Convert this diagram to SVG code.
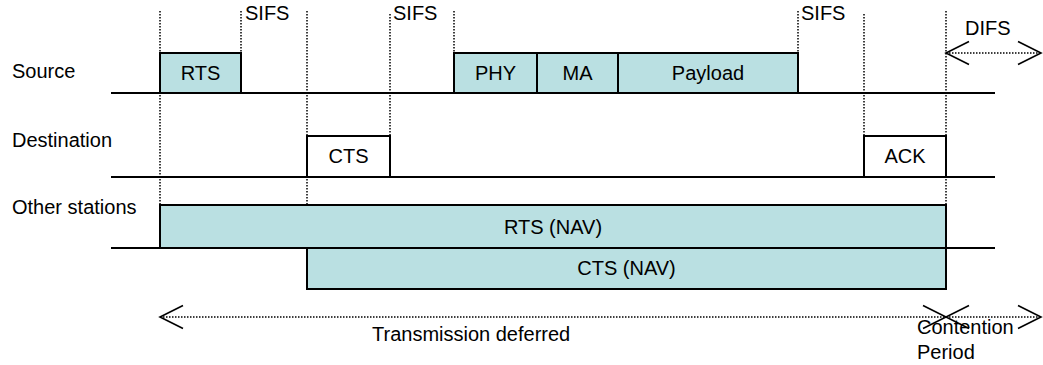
<svg xmlns="http://www.w3.org/2000/svg" width="1043" height="365" viewBox="0 0 1043 365">
  <style>
    text { font-family: "Liberation Sans", Arial, sans-serif; font-size: 20px; fill: #000; }
    .mid { text-anchor: middle; }
    .timeline { stroke: #000; stroke-width: 2; fill: none; }
    .guide { stroke: #000; stroke-width: 1.5; stroke-dasharray: 1.5 1.5; fill: none; }
    .frame { stroke: #000; stroke-width: 2; fill: #bae0e2; }
    .frame-white { stroke: #000; stroke-width: 2; fill: #fff; }
    .span { stroke: #000; stroke-width: 1.5; stroke-dasharray: 1.5 1.5; fill: none;
            marker-start: url(#chevron); marker-end: url(#chevron); }
  </style>
  <defs>
    <marker id="chevron" markerUnits="userSpaceOnUse" viewBox="-25 -13 27 26" markerWidth="27" markerHeight="26"
            refX="0" refY="0" orient="auto-start-reverse" overflow="visible">
      <path d="M-23,-11.5 L0,0 L-23,11.5" fill="none" stroke="#000" stroke-width="1.6"/>
    </marker>
  </defs>

  <!-- station labels -->
  <g id="labels">
    <text x="12" y="78">Source</text>
    <text x="12" y="147">Destination</text>
    <text x="12" y="214">Other stations</text>
  </g>

  <!-- time axes of each station -->
  <g id="timelines">
    <line class="timeline" x1="111" y1="93" x2="995" y2="93"/>
    <line class="timeline" x1="111" y1="177" x2="995" y2="177"/>
    <line class="timeline" x1="111" y1="248" x2="995" y2="248"/>
  </g>

  <!-- dotted timing guides -->
  <g id="guides">
    <line class="guide" x1="160" y1="11" x2="160" y2="205"/>
    <line class="guide" x1="241" y1="11" x2="241" y2="53"/>
    <line class="guide" x1="307" y1="11" x2="307" y2="248"/>
    <line class="guide" x1="390" y1="14" x2="390" y2="136"/>
    <line class="guide" x1="454" y1="11" x2="454" y2="53"/>
    <line class="guide" x1="798" y1="11" x2="798" y2="53"/>
    <line class="guide" x1="864" y1="14" x2="864" y2="136"/>
    <line class="guide" x1="946" y1="11" x2="946" y2="205"/>
  </g>

  <!-- interframe spacing labels -->
  <g id="ifs-labels">
    <text x="245" y="20">SIFS</text>
    <text x="393" y="20">SIFS</text>
    <text x="801" y="20">SIFS</text>
    <text x="965" y="35">DIFS</text>
  </g>

  <!-- source frames -->
  <g id="src-rts">
    <rect class="frame" x="160" y="53" width="81" height="40"/>
    <text class="mid" x="200.5" y="80">RTS</text>
  </g>
  <g id="src-phy">
    <rect class="frame" x="454" y="53" width="83" height="40"/>
    <text class="mid" x="495.5" y="80">PHY</text>
  </g>
  <g id="src-ma">
    <rect class="frame" x="537" y="53" width="81" height="40"/>
    <text class="mid" x="577.5" y="80">MA</text>
  </g>
  <g id="src-payload">
    <rect class="frame" x="618" y="53" width="180" height="40"/>
    <text class="mid" x="708" y="80">Payload</text>
  </g>

  <!-- destination frames -->
  <g id="dst-cts">
    <rect class="frame-white" x="307" y="136" width="83" height="41"/>
    <text class="mid" x="348.5" y="163">CTS</text>
  </g>
  <g id="dst-ack">
    <rect class="frame-white" x="864" y="136" width="82" height="41"/>
    <text class="mid" x="905" y="163">ACK</text>
  </g>

  <!-- network allocation vectors of other stations -->
  <g id="nav-rts">
    <rect class="frame" x="160" y="205" width="786" height="43"/>
    <text class="mid" x="553" y="234">RTS (NAV)</text>
  </g>
  <g id="nav-cts">
    <rect class="frame" x="307" y="248" width="639" height="41"/>
    <text class="mid" x="626.5" y="275">CTS (NAV)</text>
  </g>

  <!-- duration arrows -->
  <g id="connectors">
    <line class="span" x1="946" y1="53" x2="1041" y2="53"/>
    <line class="span" x1="160" y1="317" x2="946" y2="317"/>
    <line class="span" x1="946" y1="317" x2="1041" y2="317"/>
  </g>

  <g id="period-labels">
    <text x="372" y="341">Transmission deferred</text>
    <text x="917" y="334">Contention</text>
    <text x="917" y="359">Period</text>
  </g>
</svg>
